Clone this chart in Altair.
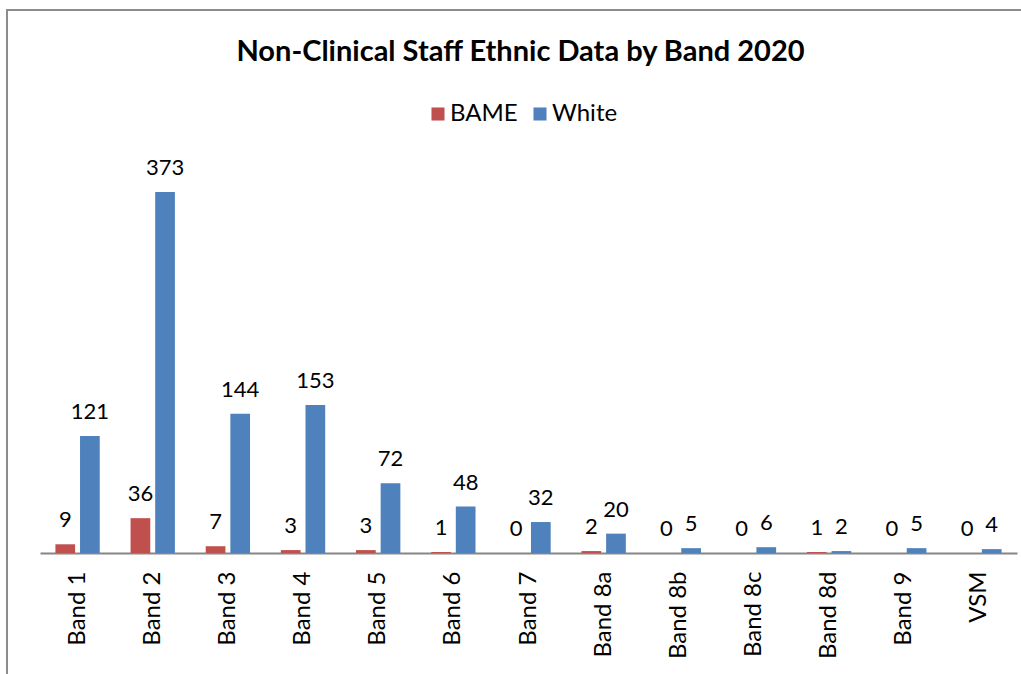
import altair as alt
import pandas as pd

bands = ["Band 1", "Band 2", "Band 3", "Band 4", "Band 5", "Band 6", "Band 7",
         "Band 8a", "Band 8b", "Band 8c", "Band 8d", "Band 9", "VSM"]
bame = [9, 36, 7, 3, 3, 1, 0, 2, 0, 0, 1, 0, 0]
white = [121, 373, 144, 153, 72, 48, 32, 20, 5, 6, 2, 5, 4]
groups = ["BAME", "White"]
colors = ["#C0504D", "#4F81BD"]

rows = []
for b, v1, v2 in zip(bands, bame, white):
    rows.append({"band": b, "group": "BAME", "value": v1})
    rows.append({"band": b, "group": "White", "value": v2})
df = pd.DataFrame(rows)

FONT = "Lato"

x = alt.X("band:N", sort=bands, title=None,
          scale=alt.Scale(paddingInner=0.41, paddingOuter=0.205),
          axis=alt.Axis(labelAngle=-90, labelFont=FONT, labelFontSize=24,
                        labelColor="#000000", labelPadding=18, ticks=False,
                        domainColor="#868686", domainWidth=2, labelBaseline="middle"))
xo = alt.XOffset("group:N", sort=groups, scale=alt.Scale(paddingInner=0.2))
y = alt.Y("value:Q", scale=alt.Scale(domain=[0, 400]), axis=None)

base = alt.Chart(df)

bars = base.mark_bar().encode(
    x=x, xOffset=xo, y=y,
    color=alt.Color("group:N", sort=groups,
                    scale=alt.Scale(domain=groups, range=colors),
                    legend=alt.Legend(title=None, orient="none", direction="horizontal",
                                      legendX=386, legendY=-64, symbolType="square",
                                      symbolSize=170, symbolStrokeWidth=0,
                                      labelFont=FONT, labelFontSize=24, labelColor="#000000",
                                      labelOffset=0, columnPadding=10, padding=0)),
)

labels = base.mark_text(font=FONT, fontSize=22, baseline="bottom", dy=-12, color="#000000").encode(
    x=x, xOffset=xo, y=y, text=alt.Text("value:Q"),
)

frame = alt.Chart(pd.DataFrame({"f": [0]})).mark_rect(
    fill=None, stroke="#8c8c8c", strokeWidth=2
).encode(
    x=alt.value(-33), x2=alt.value(1040), y=alt.value(-156), y2=alt.value(600)
)

chart = alt.layer(frame, bars, labels).properties(
    width=977, height=387,
    background="#ffffff",
    title=alt.TitleParams("Non-Clinical Staff Ethnic Data by Band 2020", font=FONT,
                          fontSize=29, fontWeight="bold", color="#000000",
                          anchor="middle", frame="group", offset=0, dx=-8, dy=58),
    autosize=alt.AutoSizeParams(type="none"),
    padding={"left": 40, "top": 166, "right": 4, "bottom": 121},
).configure_view(strokeWidth=0, stroke="transparent")

chart.save("out.html", embed_options={"renderer": "svg", "actions": False})
